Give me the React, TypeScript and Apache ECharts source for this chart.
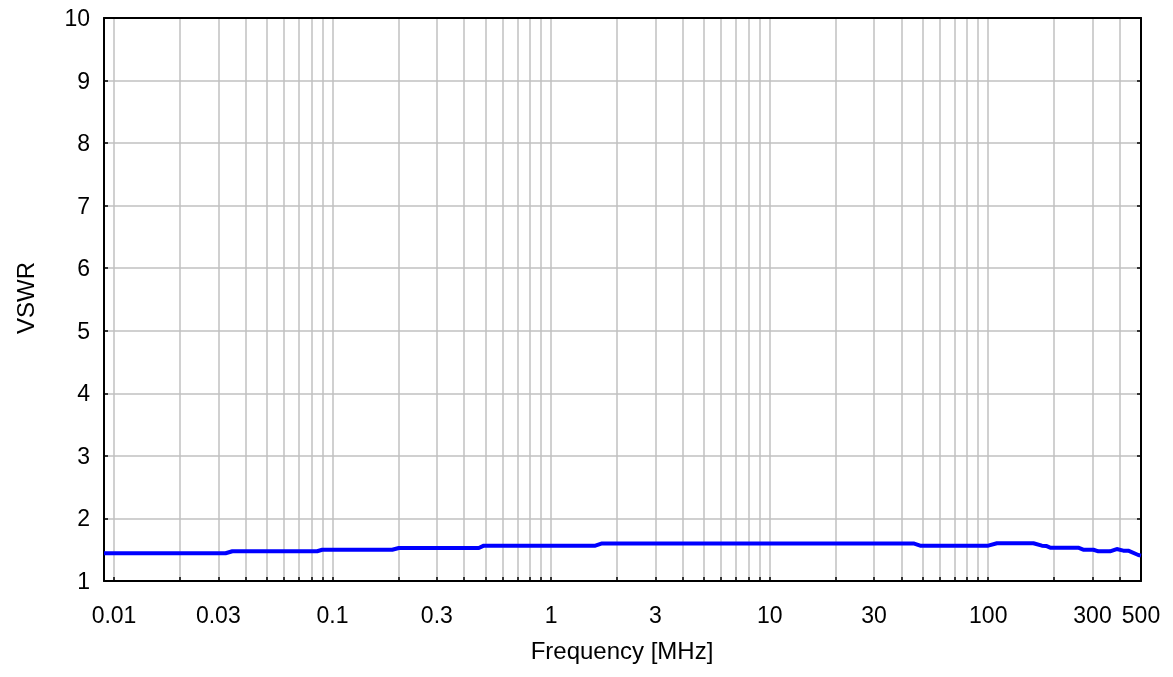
import React, { useEffect, useRef } from "react";
import * as echarts from "echarts";

const freqMHz = [0.009, 0.0324, 0.0348, 0.085, 0.0897, 0.1875, 0.201, 0.467, 0.492, 1.594, 1.71, 45.5, 48.8, 100, 109.6, 161, 176, 184, 192, 258, 272, 303, 319, 361, 387, 415, 437, 486, 500];
const vswr = [1.443, 1.443, 1.475, 1.475, 1.5, 1.5, 1.527, 1.527, 1.565, 1.565, 1.6, 1.6, 1.565, 1.565, 1.603, 1.603, 1.565, 1.56, 1.533, 1.533, 1.5, 1.5, 1.475, 1.475, 1.511, 1.485, 1.485, 1.416, 1.405];
const xLabelValues = [0.01, 0.03, 0.1, 0.3, 1, 3, 10, 30, 100, 300, 500];
const gridDecades = [0.01, 0.1, 1, 10, 100];
const gridMultipliers = [1, 2, 3, 4, 5, 6, 7, 8, 9];
const xMin = 0.009;
const xMax = 500;
const yMin = 1;
const yMax = 10;

const FONT = "'Liberation Sans', Arial, sans-serif";

export default function App() {
  const ref = useRef<HTMLDivElement>(null);
  useEffect(() => {
    if (!ref.current) return;
    const chart = echarts.init(ref.current, undefined, { renderer: "svg" });
    const gridVals: number[] = [];
    gridDecades.forEach((d) =>
      gridMultipliers.forEach((m) => {
        const v = d * m;
        if (v <= xMax) gridVals.push(Math.log10(v));
      })
    );
    const labelVals = xLabelValues.map((v) => Math.log10(v));
    const data = freqMHz.map((f, i) => [Math.log10(f), vswr[i]]);
    const lmin = Math.log10(xMin);
    const lmax = Math.log10(xMax);
    const fmt = (v: number) => String(Number(Math.pow(10, v).toPrecision(2)));
    chart.setOption({
      animation: false,
      grid: { left: 104, right: 32, top: 18, bottom: 96, containLabel: false },
      xAxis: [
        {
          type: "value",
          min: lmin,
          max: lmax,
          axisLine: { show: true, onZero: false, lineStyle: { color: "#000", width: 2 } },
          axisTick: { show: true, inside: true, length: 4, customValues: gridVals, lineStyle: { color: "#000", width: 1.5 } },
          axisLabel: { show: true, customValues: labelVals, formatter: fmt, color: "#000", fontSize: 23, fontFamily: FONT, margin: 22 },
          splitLine: { show: true, lineStyle: { color: "#c0c0c0", width: 1.5 } },
        },
        {
          type: "value",
          position: "top",
          min: lmin,
          max: lmax,
          axisLine: { show: true, onZero: false, lineStyle: { color: "#000", width: 2 } },
          axisTick: { show: false },
          axisLabel: { show: false },
          splitLine: { show: false },
        },
      ],
      yAxis: [
        {
          type: "value",
          min: yMin,
          max: yMax,
          interval: 1,
          axisLine: { show: true, onZero: false, lineStyle: { color: "#000", width: 2 } },
          axisTick: { show: true, inside: true, length: 4, lineStyle: { color: "#000", width: 1.5 } },
          axisLabel: { color: "#000", fontSize: 23, fontFamily: FONT, margin: 14 },
          splitLine: { show: true, lineStyle: { color: "#c0c0c0", width: 1.5 } },
        },
        {
          type: "value",
          position: "right",
          min: yMin,
          max: yMax,
          interval: 1,
          axisLine: { show: true, onZero: false, lineStyle: { color: "#000", width: 2 } },
          axisTick: { show: true, inside: true, length: 4, lineStyle: { color: "#000", width: 1.5 } },
          axisLabel: { show: false },
          splitLine: { show: false },
        },
      ],
      graphic: [
        {
          type: "text",
          x: 622,
          y: 650,
          style: { text: "Frequency [MHz]", fill: "#000", font: `24px ${FONT}`, align: "center", verticalAlign: "middle" },
        },
        {
          type: "text",
          x: 25,
          y: 298,
          rotation: Math.PI / 2,
          style: { text: "VSWR", fill: "#000", font: `24px ${FONT}`, align: "center", verticalAlign: "middle" },
        },
      ],
      series: [
        {
          type: "line",
          data,
          showSymbol: false,
          lineStyle: { color: "#0000ff", width: 4 },
          z: 5,
        },
      ],
    });
    return () => chart.dispose();
  }, []);
  return <div ref={ref} style={{ position: "fixed", left: 0, top: 0, width: 1173, height: 677 }} />;
}
